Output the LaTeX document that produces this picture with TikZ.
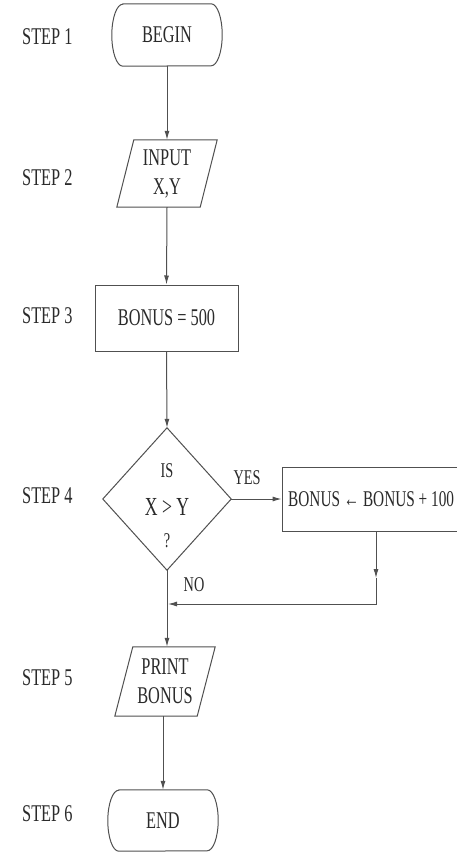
\documentclass[tikz,border=0pt]{standalone}
\usepackage{fontspec}
\setmainfont{Liberation Serif}[FakeStretch=0.68]
\usetikzlibrary{arrows.meta}
\definecolor{linegray}{HTML}{505050}
\definecolor{textgray}{HTML}{2A2A2A}
\begin{document}
\begin{tikzpicture}[x=1pt,y=1pt,
  line/.style={draw=linegray, line width=1pt},
  arr/.style={line, -{Latex[length=9pt,width=5pt]}},
  txt/.style={font=\fontsize{24}{29}\selectfont, text=textgray, inner sep=0pt, align=center},
  small/.style={font=\fontsize{21}{25}\selectfont, text=textgray, inner sep=0pt},
  steplbl/.style={txt, anchor=west},
]
\useasboundingbox (0,0) rectangle (457,-856);
\clip (0,0) rectangle (457,-856);
\fill[white] (0,0) rectangle (457,-856);

% step labels
\node[steplbl] (s1) at (22,-37) {STEP 1};
\node[steplbl] (s2) at (22,-178) {STEP 2};
\node[steplbl] (s3) at (22,-316) {STEP 3};
\node[steplbl] (s4) at (22,-496) {STEP 4};
\node[steplbl] (s5) at (22,-678) {STEP 5};
\node[steplbl] (s6) at (22,-814) {STEP 6};

% BEGIN terminal
\node[txt, minimum width=110, minimum height=62] (begin) at (167,-35) {BEGIN};
\draw[line] ([xshift=11]begin.north west) -- ([xshift=-11]begin.north east)
  arc[start angle=90,end angle=-90,x radius=11,y radius=31]
  -- ([xshift=11]begin.south west)
  arc[start angle=270,end angle=90,x radius=11,y radius=31] -- cycle;

% INPUT parallelogram
\node[txt, minimum width=100, minimum height=67] (inp) at (167,-173.5) {INPUT\\X,Y};
\draw[line] ([xshift=17]inp.north west) -- (inp.north east)
  -- ([xshift=-17]inp.south east) -- (inp.south west) -- cycle;

% BONUS = 500
\node[txt, line, draw, minimum width=143, minimum height=66] (b500) at (166.5,-318) {BONUS = 500};

% decision diamond
\node[minimum width=128, minimum height=142, inner sep=0pt] (dec) at (167,-499) {};
\draw[line] (dec.north) -- (dec.east) -- (dec.south) -- (dec.west) -- cycle;
\node[small, anchor=base] (qis) at (167,-477) {IS};
\node[txt, anchor=base, font=\fontsize{26}{30}\selectfont] (qxy) at (167,-515) {X > Y};
\node[small, anchor=base] (qq) at (167,-547) {?};

% increment box (its right side runs past the edge, as in the reference)
\node[draw, line, minimum width=188, minimum height=64, inner sep=0pt] (inc) at (376,-499) {};
\node[txt, anchor=west, font=\fontsize{22.5}{27}\selectfont] (inctext) at (288,-499) {BONUS ← BONUS + 100};

% labels
\node[small, anchor=base] (yes) at (247,-484) {YES};
\node[small, anchor=base] (no) at (194,-591) {NO};

% PRINT parallelogram
\node[txt, minimum width=100, minimum height=69] (prt) at (165,-681.5) {PRINT\\BONUS};
\draw[line] ([xshift=18]prt.north west) -- (prt.north east)
  -- ([xshift=-18]prt.south east) -- (prt.south west) -- cycle;

% END terminal
\node[txt, minimum width=110, minimum height=61] (fin) at (163,-820.5) {END};
\draw[line] ([xshift=11]fin.north west) -- ([xshift=-11]fin.north east)
  arc[start angle=90,end angle=-90,x radius=11,y radius=30.5]
  -- ([xshift=11]fin.south west)
  arc[start angle=270,end angle=90,x radius=11,y radius=30.5] -- cycle;

% connectors
\coordinate (m1) at (376,-578);
\coordinate (j1) at (376,-604);
\coordinate (j2) at (168,-604);
\draw[arr] (begin.south) -- (inp.north);
\draw[arr] (inp.south) -- (b500.north);
\draw[arr] (b500.south) -- (dec.north);
\draw[arr] (dec.east) -- (inc.west);
\draw[arr] (inc.south) -- (m1);
\draw[arr] (m1) -- (j1) -- (j2);
\draw[arr] (dec.south) -- (dec.south |- prt.north);
\draw[arr] (prt.south -| fin.north) -- (fin.north);
\end{tikzpicture}
\end{document}
